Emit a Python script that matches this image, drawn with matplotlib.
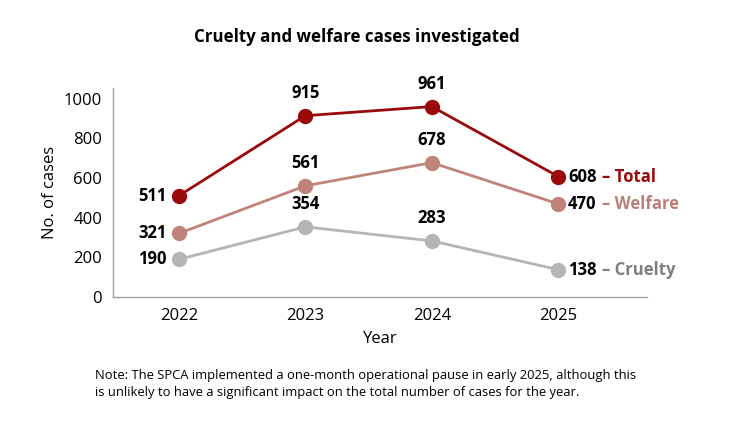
import numpy as np
import matplotlib.pyplot as plt

plt.rcParams['font.family'] = ['Open Sans', 'DejaVu Sans']

years = ['2022', '2023', '2024', '2025']
total = [511, 915, 961, 608]
welfare = [321, 561, 678, 470]
cruelty = [190, 354, 283, 138]

series = [
    ('Total', total, '#9b0a0a', '#9b0a0a'),
    ('Welfare', welfare, '#c0837a', '#b98078'),
    ('Cruelty', cruelty, '#b5b5b5', '#7f7f7f'),
]

fig = plt.figure(figsize=(7.3, 4.29), dpi=100)
ax = fig.add_axes([0.155, 0.3077, 0.731, 0.4873])
x = np.arange(len(years))

for name, vals, col, tcol in series:
    ax.plot(x, vals, color=col, lw=2, marker='o', ms=10, zorder=3)
    for i, v in enumerate(vals):
        if i == 0:
            ax.annotate(str(v), (x[i], v), xytext=(-9, 0), textcoords='offset points',
                        ha='right', va='center', fontsize=12, fontweight='bold', color='black')
        elif i == len(vals) - 1:
            num = ax.annotate(str(v), (x[i], v), xytext=(7, 0), textcoords='offset points',
                              ha='left', va='center', fontsize=12, fontweight='bold', color='black')
            ax.annotate('\u2013 ' + name, xy=(1, 0.5), xycoords=num, xytext=(4, 0),
                        textcoords='offset points', ha='left', va='center',
                        fontsize=12, fontweight='bold', color=tcol)
        else:
            ax.annotate(str(v), (x[i], v), xytext=(0, 10), textcoords='offset points',
                        ha='center', va='bottom', fontsize=12, fontweight='bold', color='black')

ax.set_xlim(-0.52, 3.7)
ax.set_ylim(0, 1055)
ax.set_yticks([0, 200, 400, 600, 800, 1000])
ax.set_xticks(x)
ax.set_xticklabels(years)
ax.tick_params(length=0, labelsize=12, pad=8)
for s in ['top', 'right']:
    ax.spines[s].set_visible(False)
for s in ['left', 'bottom']:
    ax.spines[s].set_color('#a0a0a0')
    ax.spines[s].set_linewidth(1)
ax.set_ylabel('No. of cases', fontsize=12, labelpad=4)
ax.set_xlabel('Year', fontsize=12, labelpad=5)

fig.text(0.489, 0.913, 'Cruelty and welfare cases investigated', ha='center', va='center',
         fontsize=12.2, fontweight='bold')
fig.text(0.13, 0.105, 'Note: The SPCA implemented a one-month operational pause in early 2025, although this\n'
         'is unlikely to have a significant impact on the total number of cases for the year.',
         ha='left', va='center', fontsize=9.4, linespacing=1.35)

fig.savefig('out.png', dpi=100)
